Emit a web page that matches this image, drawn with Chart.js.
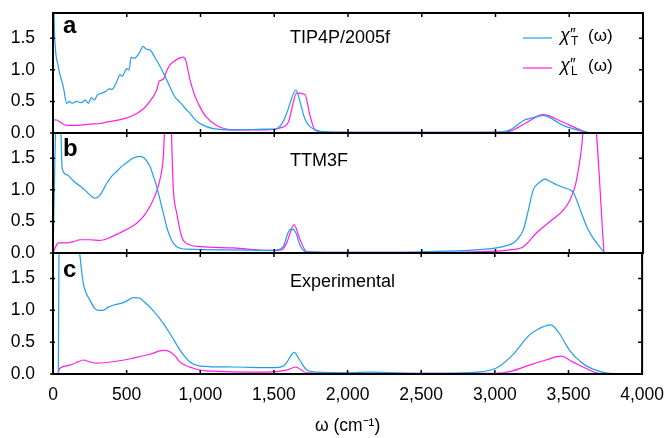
<!DOCTYPE html>
<html lang="en">
<head>
<meta charset="UTF-8">
<title>Dielectric susceptibility spectra</title>
<script src="https://cdn.jsdelivr.net/npm/chart.js"></script>
<style>
  body { margin: 0; background: #fff; }
  #wrap { position: relative; width: 667px; height: 438px; }
  #wrap canvas { position: absolute; left: 0; top: 0; }
</style>
</head>
<body>
<div id="wrap">
  <canvas id="panelA" width="667" height="438"></canvas>
  <canvas id="panelB" width="667" height="438"></canvas>
  <canvas id="panelC" width="667" height="438"></canvas>
</div>
<script>
// tick labels
const xTicks = [0, 500, 1000, 1500, 2000, 2500, 3000, 3500, 4000];
const yTicks = [0, 0.5, 1.0, 1.5];

// a: TIP4P/2005f
const tipT_x = [0, 10, 36, 48, 70, 93, 110, 130, 160, 190, 220, 240, 260, 280, 300, 330,
  360, 380, 400, 430, 454, 470, 500, 515, 530, 550, 580, 612, 630, 660, 690, 727,
  771, 827, 861, 900, 929, 960, 997, 1040, 1087, 1222, 1449, 1517, 1560, 1584, 1647, 1680,
  1708, 1776, 1850, 2500, 3050, 3100, 3200, 3250, 3324, 3400, 3460, 3584, 3660, 4000];
const tipT_y = [2.6, 1.6, 1.05, 0.92, 0.73, 0.47, 0.5, 0.47, 0.5, 0.48, 0.52, 0.47, 0.56, 0.52, 0.6, 0.63,
  0.66, 0.7, 0.69, 0.8, 0.92, 0.9, 1.02, 1.0, 1.2, 1.18, 1.25, 1.37, 1.33, 1.31, 1.2, 1.05,
  0.84, 0.57, 0.49, 0.38, 0.31, 0.22, 0.15, 0.1, 0.07, 0.05, 0.06, 0.07, 0.18, 0.31, 0.68, 0.45,
  0.22, 0.05, 0.02, 0.01, 0.02, 0.05, 0.21, 0.24, 0.28, 0.2, 0.12, 0.03, 0, 0];
const tipL_x = [0, 20, 50, 93, 150, 200, 250, 319, 380, 432, 500, 545, 612, 650, 703, 720,
  748, 770, 793, 830, 884, 900, 929, 960, 997, 1040, 1110, 1222, 1449, 1539, 1595, 1652,
  1708, 1740, 1776, 1850, 3050, 3100, 3200, 3324, 3460, 3584, 3650, 4000];
const tipL_y = [0.2, 0.21, 0.17, 0.12, 0.12, 0.13, 0.14, 0.15, 0.18, 0.2, 0.24, 0.28, 0.38, 0.48, 0.68, 0.82,
  0.85, 0.98, 1.08, 1.15, 1.2, 1.15, 0.84, 0.6, 0.41, 0.25, 0.12, 0.05, 0.05, 0.08, 0.17, 0.63,
  0.61, 0.3, 0.05, 0.01, 0.01, 0.03, 0.15, 0.29, 0.17, 0.04, 0, 0];

// b: TTM3F
const ttmT_x = [0, 28, 48, 62, 93, 130, 160, 200, 228, 260, 280, 300, 320, 340, 364, 400,
  432, 470, 500, 540, 590, 620, 658, 680, 703, 725, 748, 770, 793, 815, 839, 906,
  1222, 1495, 1561, 1590, 1607, 1630, 1650, 1675, 1720, 2000, 2500, 3008, 3080, 3121, 3160, 3189,
  3220, 3256, 3300, 3336, 3380, 3415, 3470, 3505, 3530, 3550, 3580, 3618, 3650, 3686, 3736];
const ttmT_y = [0, 2.6, 2.4, 1.34, 1.24, 1.16, 1.1, 1.03, 0.97, 0.9, 0.87, 0.88, 0.92, 1.0, 1.1, 1.22,
  1.29, 1.38, 1.43, 1.5, 1.53, 1.5, 1.37, 1.22, 1.05, 0.85, 0.63, 0.42, 0.26, 0.16, 0.1, 0.06,
  0.05, 0.04, 0.1, 0.3, 0.37, 0.37, 0.3, 0.12, 0.02, 0.01, 0.02, 0.08, 0.12, 0.16, 0.25, 0.37,
  0.65, 1.0, 1.12, 1.17, 1.12, 1.08, 1.03, 1.0, 0.95, 0.84, 0.65, 0.42, 0.28, 0.16, 0.01];
const ttmL_x = [0, 36, 93, 140, 183, 250, 319, 400, 454, 520, 567, 620, 658, 690, 725, 748,
  770, 790, 816, 839, 872, 900, 997, 1222, 1449, 1550, 1584, 1634, 1675, 1720, 2000, 2500,
  3000, 3100, 3189, 3279, 3369, 3460, 3505, 3539, 3562, 3584, 3610, 3660, 3736];
const ttmL_y = [0, 0.16, 0.16, 0.18, 0.21, 0.21, 0.2, 0.26, 0.32, 0.4, 0.47, 0.6, 0.74, 0.9, 1.16, 1.53,
  2.6, 2.6, 1.0, 0.63, 0.26, 0.16, 0.1, 0.08, 0.04, 0.05, 0.16, 0.45, 0.21, 0.02, 0.01, 0.01,
  0.03, 0.05, 0.1, 0.32, 0.5, 0.68, 0.84, 1.05, 1.32, 1.68, 2.3, 2.3, 0];

// c: Experimental
const expT_x = [36, 45, 160, 206, 251, 280, 307, 341, 375, 409, 477, 510, 545, 590, 620, 658,
  725, 793, 861, 900, 929, 997, 1222, 1494, 1560, 1584, 1637, 1675, 1720, 1788, 2000, 2150,
  2500, 2800, 3008, 3121, 3234, 3290, 3381, 3437, 3505, 3595, 3686, 3776, 4000];
const expT_y = [0, 3.0, 2.3, 1.42, 1.16, 1.04, 1.0, 1.0, 1.05, 1.08, 1.12, 1.16, 1.2, 1.19, 1.13, 1.05,
  0.87, 0.64, 0.38, 0.26, 0.19, 0.125, 0.11, 0.1, 0.12, 0.17, 0.34, 0.22, 0.07, 0.03, 0.02, 0.03,
  0.01, 0.02, 0.09, 0.3, 0.61, 0.7, 0.77, 0.64, 0.38, 0.17, 0.06, 0.01, 0];
const expL_x = [36, 47, 115, 160, 206, 250, 296, 432, 545, 658, 748, 793, 830, 861, 951, 1042,
  1449, 1584, 1647, 1720, 2000, 3008, 3121, 3234, 3347, 3449, 3528, 3618, 3708, 4000];
const expL_y = [0.03, 0.09, 0.14, 0.18, 0.22, 0.19, 0.17, 0.2, 0.25, 0.31, 0.37, 0.35, 0.28, 0.19, 0.09, 0.05,
  0.03, 0.06, 0.11, 0.02, 0.01, 0.01, 0.05, 0.14, 0.22, 0.28, 0.19, 0.09, 0.01, 0];

const BLUE = '#1e9ef0';
const PINK = '#ff1eea';
const FONT = "'Liberation Sans', Arial, sans-serif";
Chart.defaults.font.family = FONT;
Chart.defaults.color = '#000';

const panels = [
  { id: 'panelA', letter: 'a', name: 'TIP4P/2005f', top: 13, bottom: 133, letterY: 33, nameY: 43,
    series: [[tipT_x, tipT_y, BLUE], [tipL_x, tipL_y, PINK]], legend: true },
  { id: 'panelB', letter: 'b', name: 'TTM3F', top: 133, bottom: 253, letterY: 156, nameY: 166,
    series: [[ttmT_x, ttmT_y, BLUE], [ttmL_x, ttmL_y, PINK]] },
  { id: 'panelC', letter: 'c', name: 'Experimental', top: 253, bottom: 374, letterY: 277, nameY: 287,
    series: [[expT_x, expT_y, BLUE], [expL_x, expL_y, PINK]], showX: true }
];

function framePlugin(p) {
  return {
    id: 'frame',
    afterDraw(chart) {
      const { ctx, chartArea: a, scales: { x, y } } = chart;
      ctx.save();
      ctx.strokeStyle = '#000';
      ctx.lineWidth = 2;
      ctx.strokeRect(a.left, a.top, a.right - a.left, a.bottom - a.top);
      ctx.lineWidth = 1.5;
      ctx.beginPath();
      xTicks.forEach(v => {
        const px = x.getPixelForValue(v);
        ctx.moveTo(px, a.top); ctx.lineTo(px, a.top + 4);
        ctx.moveTo(px, a.bottom); ctx.lineTo(px, a.bottom - 4);
      });
      yTicks.forEach(v => {
        const py = y.getPixelForValue(v);
        ctx.moveTo(a.right, py); ctx.lineTo(a.right - 4, py);
        ctx.moveTo(a.left - 3, py); ctx.lineTo(a.left + 2, py);
      });
      ctx.stroke();

      ctx.fillStyle = '#000';
      ctx.textBaseline = 'alphabetic';
      ctx.textAlign = 'left';
      ctx.font = 'bold 24px ' + FONT;
      ctx.fillText(p.letter, 63, p.letterY);
      ctx.font = '18px ' + FONT;
      ctx.fillText(p.name, 290, p.nameY);

      if (p.legend) {
        [['T', BLUE, 38], ['L', PINK, 68]].forEach(([sub, col, ly]) => {
          ctx.strokeStyle = col;
          ctx.lineWidth = 1.2;
          ctx.beginPath();
          ctx.moveTo(523, ly); ctx.lineTo(552, ly);
          ctx.stroke();
          ctx.font = 'italic 18px ' + FONT;
          ctx.fillText('χ', 560, ly + 3);
          ctx.font = '16px ' + FONT;
          ctx.fillText('″', 570, ly + 2);
          ctx.font = '12px ' + FONT;
          ctx.fillText(sub, 571, ly + 7);
          ctx.font = '17px ' + FONT;
          ctx.fillText('(ω)', 588, ly + 3);
        });
      }
      ctx.restore();
    }
  };
}

panels.forEach(p => {
  new Chart(document.getElementById(p.id), {
    type: 'line',
    data: {
      datasets: p.series.map(([xs, ys, col]) => ({
        data: xs.map((v, i) => ({ x: v, y: ys[i] })),
        borderColor: col,
        borderWidth: 1.2,
        pointRadius: 0,
        fill: false,
        cubicInterpolationMode: 'monotone'
      }))
    },
    options: {
      responsive: false,
      animation: false,
      layout: { padding: { top: p.top, bottom: p.showX ? 0 : 438 - p.bottom, left: 0, right: 24 } },
      plugins: { legend: { display: false }, tooltip: { enabled: false } },
      scales: {
        x: {
          type: 'linear', min: 0, max: 4000, display: !!p.showX,
          grid: { display: false }, border: { display: false },
          afterBuildTicks: s => { s.ticks = xTicks.map(v => ({ value: v })); },
          afterFit: s => { if (p.showX) s.height = 64; },
          ticks: { autoSkip: false, maxRotation: 0, padding: 3, font: { size: 17.5 },
                   callback: v => v.toLocaleString('en-US') },
          title: { display: true, text: 'ω (cm⁻¹)', font: { size: 17.5 }, padding: { top: 0, bottom: 1 } }
        },
        y: {
          min: 0, max: 1.9,
          grid: { display: false }, border: { display: false },
          afterBuildTicks: s => { s.ticks = yTicks.map(v => ({ value: v })); },
          afterFit: s => { s.width = 53; s.paddingTop = 0; s.paddingBottom = 0; },
          ticks: { padding: 10, autoSkip: false, font: { size: 17.5 }, callback: v => v.toFixed(1) }
        }
      }
    },
    plugins: [framePlugin(p)]
  });
});
</script>
</body>
</html>
